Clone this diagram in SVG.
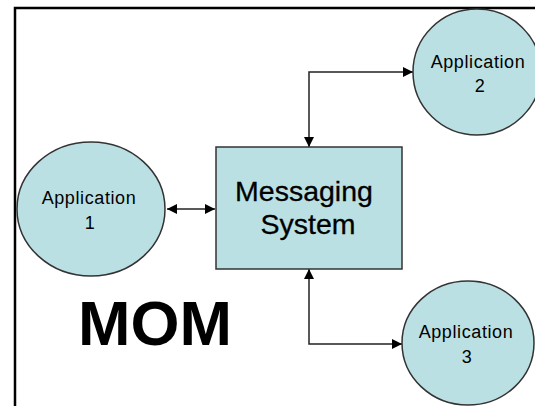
<svg xmlns="http://www.w3.org/2000/svg" width="535" height="406" viewBox="0 0 535 406">
  <style>
    .frame { fill: none; stroke: #000; stroke-width: 2.5; }
    .app { fill: #bbe0e3; stroke: #333; stroke-width: 1.5; }
    .box { fill: #bbe0e3; stroke: #333; stroke-width: 1.5; }
    .applabel { font-family: "Liberation Sans", Arial, sans-serif; font-size: 18px; letter-spacing: 0.6px; fill: #000; text-anchor: middle; }
    .boxlabel { font-family: "Liberation Sans", Arial, sans-serif; font-size: 28.5px; fill: #000; text-anchor: middle; stroke: #000; stroke-width: 0.3; }
    .title { font-family: "Liberation Sans", Arial, sans-serif; font-size: 63px; font-weight: bold; fill: #000; }
    .link { fill: none; stroke: #222; stroke-width: 1.5; }
  </style>
  <defs>
    <marker id="head" viewBox="0 0 10 10" refX="10" refY="5" markerWidth="11" markerHeight="10" markerUnits="userSpaceOnUse" orient="auto-start-reverse">
      <path d="M0,0 L10,5 L0,10 Z" fill="#000"/>
    </marker>
  </defs>

  <rect width="535" height="406" fill="#fff"/>

  <!-- slide frame -->
  <path class="frame" d="M15,406 V8 H535"/>

  <!-- connectors -->
  <g id="connectors">
    <path class="link" d="M167,209 H215" marker-start="url(#head)" marker-end="url(#head)"/>
    <path class="link" d="M309,147 V72 H413" marker-start="url(#head)" marker-end="url(#head)"/>
    <path class="link" d="M309,269 V344 H402" marker-start="url(#head)" marker-end="url(#head)"/>
  </g>

  <g id="app1">
    <ellipse class="app" cx="91" cy="209" rx="74" ry="67"/>
    <text class="applabel" x="89" y="204">Application</text>
    <text class="applabel" x="90" y="229">1</text>
  </g>

  <g id="messaging-system">
    <rect class="box" x="216" y="147" width="186" height="122"/>
    <text class="boxlabel" x="304" y="201">Messaging</text>
    <text class="boxlabel" x="308" y="234">System</text>
  </g>

  <g id="app2">
    <ellipse class="app" cx="477" cy="72" rx="64" ry="63"/>
    <text class="applabel" x="478" y="68">Application</text>
    <text class="applabel" x="480" y="92">2</text>
  </g>

  <g id="app3">
    <ellipse class="app" cx="468" cy="343" rx="66" ry="62"/>
    <text class="applabel" x="466" y="338">Application</text>
    <text class="applabel" x="467" y="363">3</text>
  </g>

  <text class="title" x="78" y="345">MOM</text>
</svg>
